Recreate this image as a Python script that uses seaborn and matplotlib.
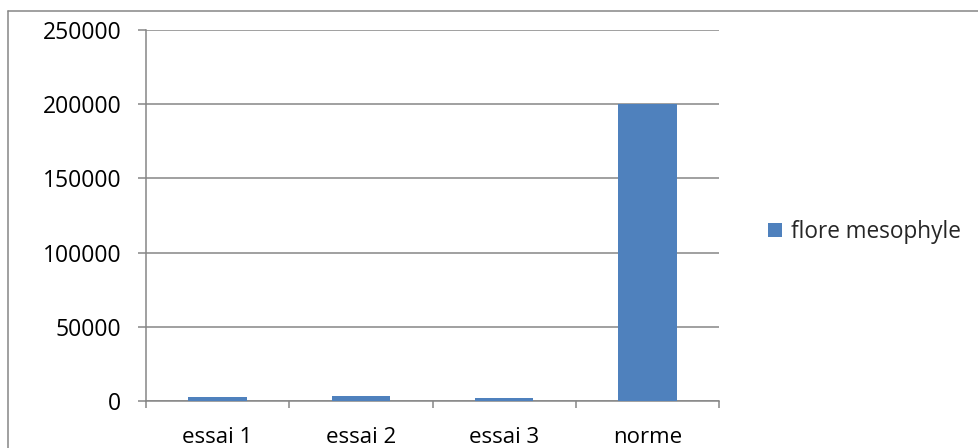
import matplotlib
matplotlib.use("Agg")
import matplotlib.pyplot as plt
import seaborn as sns
import pandas as pd
from matplotlib.patches import Patch
from matplotlib.lines import Line2D

categories = ["essai 1", "essai 2", "essai 3", "norme"]
values = [2500, 3200, 2300, 200000]
series_name = "flore mesophyle"
yticks = [0, 50000, 100000, 150000, 200000, 250000]

sns.set_theme(style="white")
plt.rcParams["font.family"] = ["Open Sans", "DejaVu Sans"]

W, H = 979, 448
fig = plt.figure(figsize=(W / 100, H / 100), dpi=100)
ax = fig.add_axes([146 / W, (H - 401) / H, (719 - 146) / W, (401 - 30) / H])

df = pd.DataFrame({"cat": categories, "val": values})
bar_color = "#4F81BD"
grid_color = "#868686"
lw = 1.1

sns.barplot(data=df, x="cat", y="val", color=bar_color, width=0.41,
            saturation=1, linewidth=0, ax=ax, zorder=3)

ax.set_ylim(0, 250000)
ax.set_xlim(-0.5, len(categories) - 0.5)
ax.set_yticks(yticks)
ax.set_yticklabels([str(v) for v in yticks])
ax.yaxis.grid(True, color=grid_color, linewidth=lw, zorder=0)
ax.set_axisbelow(True)
ax.set_xlabel("")
ax.set_ylabel("")

for side in ["top", "right"]:
    ax.spines[side].set_visible(False)
for side in ["left", "bottom"]:
    ax.spines[side].set_color(grid_color)
    ax.spines[side].set_linewidth(lw)

ax.tick_params(axis="y", which="both", left=True, length=5.8, width=lw,
               color=grid_color, labelsize=16.5, labelcolor="black", pad=12)
ax.tick_params(axis="x", which="major", bottom=False, length=0, labelsize=16,
               labelcolor="black", pad=18.5)
# tick marks on category boundaries
ax.set_xticks([i + 0.5 for i in range(-1, len(categories))], minor=True)
ax.tick_params(axis="x", which="minor", bottom=True, length=5, width=lw,
               color=grid_color, direction="out")

handles = [Patch(facecolor=bar_color, edgecolor="none", label=series_name)]
fig.legend(handles=handles, loc="center left",
           bbox_to_anchor=(768 / W, (H - 232) / H), frameon=False,
           fontsize=16.3, handlelength=0.62, handleheight=0.62,
           handletextpad=0.4, borderaxespad=0, borderpad=0)

# chart area border
fig.add_artist(Line2D([8.5 / W, 8.5 / W], [0, (H - 11) / H],
                      transform=fig.transFigure, color=grid_color, linewidth=lw))
fig.add_artist(Line2D([8.5 / W, 1], [(H - 11) / H, (H - 11) / H],
                      transform=fig.transFigure, color=grid_color, linewidth=lw))

fig.savefig("out.png", dpi=100)
